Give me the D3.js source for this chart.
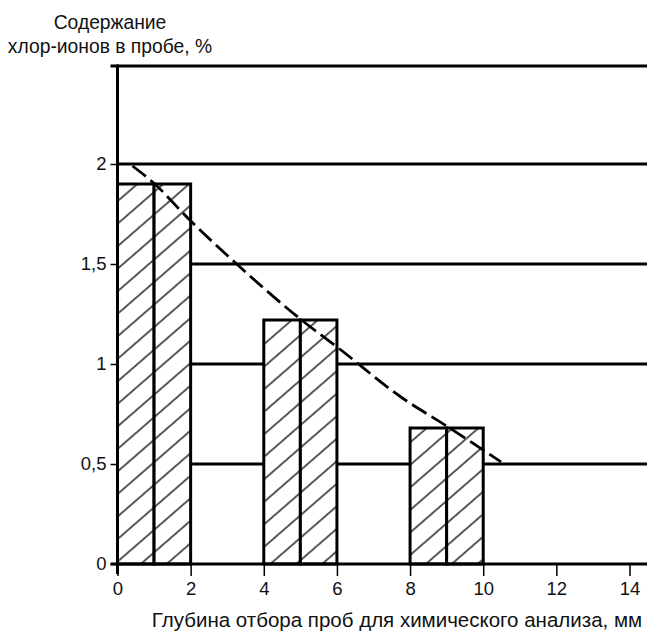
<!DOCTYPE html>
<html><head><meta charset="utf-8">
<script src="https://cdn.jsdelivr.net/npm/d3@7"></script>
<style>body{margin:0;background:#fff}svg{display:block}text{font-family:"Liberation Sans",Arial,sans-serif;fill:#111}</style>
</head><body>
<script>
const barStart = [0, 1, 4, 5, 8, 9];
const barEnd   = [1, 2, 5, 6, 9, 10];
const barValues = [1.9, 1.9, 1.22, 1.22, 0.68, 0.68];
const trendX = [0.41, 0.99, 1.92, 3.29, 4.93, 6.11, 7.75, 9.04, 10.49];
const trendY = [1.99, 1.905, 1.73, 1.495, 1.235, 1.07, 0.835, 0.685, 0.51];
const xTicks = [0, 2, 4, 6, 8, 10, 12, 14];
const yTicks = [0, 0.5, 1, 1.5, 2];
const gridValues = [0.5, 1, 1.5, 2];
const yTop = 2.49;
const xTitle = "Глубина отбора проб для химического анализа, мм";
const yTitle = ["Содержание", "хлор-ионов в пробе, %"];

const W = 647, H = 633;
const svg = d3.select("body").append("svg").attr("width", W).attr("height", H);
const x = d3.scaleLinear().domain([0, 14]).range([117.5, 629.5]);
const y = d3.scaleLinear().domain([0, 2]).range([564, 164]);

const defs = svg.append("defs");
const pat = defs.append("pattern").attr("id", "hatch").attr("patternUnits", "userSpaceOnUse")
  .attr("width", 20).attr("height", 17).attr("patternTransform", "rotate(-41)");
pat.append("rect").attr("width", 20).attr("height", 17).attr("fill", "#fff");
pat.append("line").attr("x1", 0).attr("x2", 20).attr("y1", 8).attr("y2", 8)
  .attr("stroke", "#111").attr("stroke-width", 1.4);

// gridlines
svg.append("g").selectAll("line").data(gridValues).join("line")
  .attr("x1", x(0)).attr("x2", W).attr("y1", d => y(d)).attr("y2", d => y(d))
  .attr("stroke", "#000").attr("stroke-width", 3);
svg.append("line").attr("x1", x(0) - 7).attr("x2", W).attr("y1", y(yTop)).attr("y2", y(yTop))
  .attr("stroke", "#000").attr("stroke-width", 3);

// bars
const bars = barValues.map((v, i) => ({s: barStart[i], e: barEnd[i], v}));
svg.append("g").selectAll("rect").data(bars).join("rect")
  .attr("x", d => x(d.s)).attr("width", d => x(d.e) - x(d.s))
  .attr("y", d => y(d.v)).attr("height", d => y(0) - y(d.v))
  .attr("fill", "url(#hatch)").attr("stroke", "#000").attr("stroke-width", 3);

// axes
const xAxis = svg.append("g").attr("transform", `translate(0,${y(0)})`)
  .call(d3.axisBottom(x).tickValues(xTicks).tickSize(12).tickPadding(6).tickFormat(d3.format("d")));
xAxis.select(".domain").remove();
xAxis.selectAll(".tick line").attr("stroke", "#000").attr("stroke-width", 1.5);
xAxis.selectAll(".tick text").style("font-size", "18.5px").attr("fill", "#111");
svg.append("line").attr("x1", x(0) - 7).attr("x2", W).attr("y1", y(0)).attr("y2", y(0))
  .attr("stroke", "#000").attr("stroke-width", 3);

const yAxis = svg.append("g").attr("transform", `translate(${x(0)},0)`)
  .call(d3.axisLeft(y).tickValues(yTicks).tickSize(7).tickPadding(4)
    .tickFormat(d => String(d).replace(".", ",")));
yAxis.select(".domain").remove();
yAxis.selectAll(".tick line").attr("stroke", "#000").attr("stroke-width", 1.5);
yAxis.selectAll(".tick text").style("font-size", "18.5px").attr("fill", "#111");
svg.append("line").attr("x1", x(0)).attr("x2", x(0)).attr("y1", y(yTop) - 1.5).attr("y2", y(0) + 10)
  .attr("stroke", "#000").attr("stroke-width", 3);

// dashed trend
const pts = trendX.map((v, i) => [v, trendY[i]]);
svg.append("path").datum(pts)
  .attr("d", d3.line().x(d => x(d[0])).y(d => y(d[1])).curve(d3.curveMonotoneX))
  .attr("fill", "none").attr("stroke", "#000").attr("stroke-width", 2.8)
  .attr("stroke-dasharray", "17,6");

// titles
svg.append("text").attr("x", 397).attr("y", 627).attr("text-anchor", "middle")
  .style("font-size", "20.5px").text(xTitle);
svg.append("text").attr("x", 110).attr("y", 29).attr("text-anchor", "middle")
  .style("font-size", "19.3px").text(yTitle[0]);
svg.append("text").attr("x", 110).attr("y", 53).attr("text-anchor", "middle")
  .style("font-size", "19.3px").text(yTitle[1]);
</script>
</body></html>
